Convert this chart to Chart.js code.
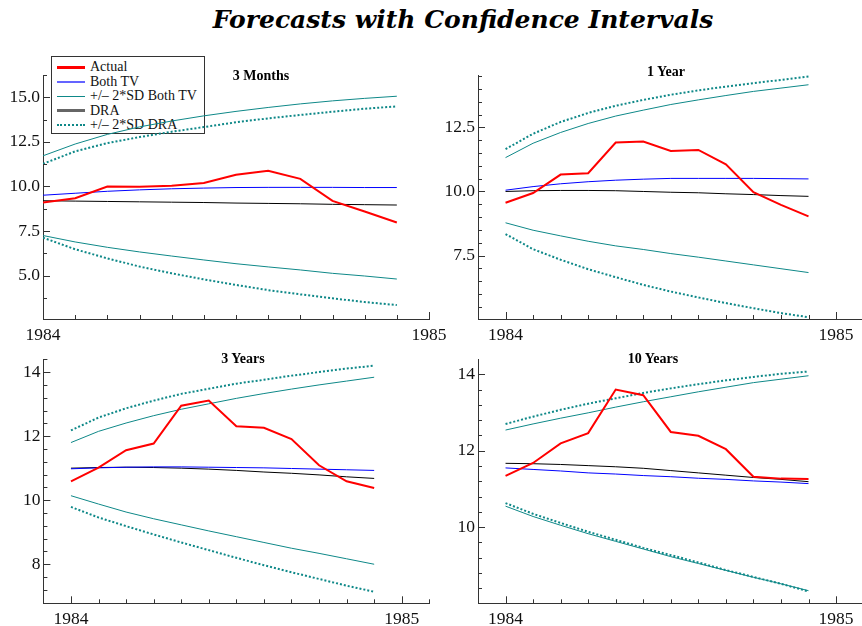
<!DOCTYPE html>
<html>
<head>
<meta charset="utf-8">
<script src="https://cdn.jsdelivr.net/npm/chart.js@4.4.0/dist/chart.umd.min.js"></script>
<style>
html,body{margin:0;padding:0;background:#fff;}
body{width:862px;height:626px;overflow:hidden;position:relative;}
.panel{position:absolute;}
.ptitle{position:absolute;font:bold 14px "Liberation Serif",serif;line-height:14px;white-space:nowrap;transform:translateX(-50%);color:#000;}
#title{position:absolute;left:463px;top:5.3px;transform:translateX(-50%);white-space:nowrap;font:italic bold 25px "DejaVu Serif",serif;line-height:30px;color:#000;}
#legend{position:absolute;left:51px;top:56px;width:152px;height:76px;border:1px solid #333;}
.lrow{position:absolute;left:0;width:150px;height:14px;}
.lsample{position:absolute;left:5px;width:28px;height:0;}
.ltext{position:absolute;left:38px;top:0;font:14px "Liberation Serif",serif;line-height:14px;color:#111;white-space:nowrap;}
</style>
</head>
<body>
<div id="title">Forecasts with Confidence Intervals</div>
<div id="legend"></div>
<div class="panel" style="left:0px;top:70px;width:460px;height:280px;"><canvas id="c0"></canvas></div>
<div class="panel" style="left:435px;top:70px;width:440px;height:280px;"><canvas id="c1"></canvas></div>
<div class="panel" style="left:0px;top:354px;width:460px;height:272px;"><canvas id="c2"></canvas></div>
<div class="panel" style="left:435px;top:354px;width:440px;height:272px;"><canvas id="c3"></canvas></div>
<div class="ptitle" style="left:261px;top:69px;">3 Months</div>
<div class="ptitle" style="left:666px;top:65px;">1 Year</div>
<div class="ptitle" style="left:243px;top:351.5px;">3 Years</div>
<div class="ptitle" style="left:653px;top:351.5px;">10 Years</div>
<script>
// ---- data ----
const months = [0,1,2,3,4,5,6,7,8,9,10,11];
const xTickLabels = ['1984','1985'];
const seriesNames = ['Actual','Both TV','+/\u2013 2*SD Both TV','DRA','+/\u2013 2*SD DRA'];
const panelTitles = ['3 Months','1 Year','3 Years','10 Years'];

// 3 Months
const actual3m    = [9.10, 9.34, 10.00, 9.98, 10.04, 10.19, 10.66, 10.88, 10.43, 9.19, 8.60, 7.98];
const bothTV3m    = [9.51, 9.62, 9.73, 9.81, 9.87, 9.91, 9.94, 9.95, 9.95, 9.95, 9.94, 9.94];
const bothTVUp3m  = [11.72, 12.38, 12.92, 13.34, 13.67, 13.96, 14.21, 14.43, 14.63, 14.80, 14.94, 15.06];
const bothTVLo3m  = [7.25, 6.89, 6.59, 6.33, 6.10, 5.88, 5.67, 5.49, 5.32, 5.13, 4.98, 4.81];
const dra3m       = [9.20, 9.18, 9.16, 9.14, 9.12, 9.10, 9.07, 9.05, 9.03, 9.00, 8.98, 8.96];
const draUp3m     = [11.27, 11.97, 12.43, 12.77, 13.07, 13.33, 13.60, 13.82, 14.01, 14.19, 14.36, 14.49];
const draLo3m     = [7.13, 6.48, 5.97, 5.51, 5.13, 4.79, 4.48, 4.19, 3.95, 3.73, 3.52, 3.35];

// 1 Year
const actual1y    = [9.56, 9.94, 10.66, 10.71, 11.91, 11.95, 11.58, 11.62, 11.06, 9.97, 9.48, 9.03];
const bothTV1y    = [10.05, 10.19, 10.30, 10.38, 10.44, 10.48, 10.51, 10.51, 10.51, 10.51, 10.50, 10.49];
const bothTVUp1y  = [11.32, 11.88, 12.30, 12.65, 12.94, 13.17, 13.39, 13.57, 13.74, 13.90, 14.03, 14.16];
const bothTVLo1y  = [8.78, 8.49, 8.27, 8.06, 7.88, 7.74, 7.58, 7.44, 7.29, 7.14, 6.99, 6.84];
const dra1y       = [10.00, 10.03, 10.04, 10.04, 10.03, 10.00, 9.97, 9.95, 9.91, 9.88, 9.84, 9.81];
const draUp1y     = [11.65, 12.25, 12.71, 13.06, 13.34, 13.57, 13.77, 13.94, 14.09, 14.22, 14.35, 14.48];
const draLo1y     = [8.34, 7.75, 7.34, 6.97, 6.66, 6.36, 6.10, 5.87, 5.65, 5.45, 5.26, 5.10];

// 3 Years
const actual3y    = [10.59, 11.02, 11.56, 11.77, 12.95, 13.11, 12.31, 12.26, 11.91, 11.09, 10.59, 10.38];
const bothTV3y    = [10.98, 11.01, 11.03, 11.04, 11.04, 11.03, 11.02, 11.01, 10.99, 10.97, 10.95, 10.93];
const bothTVUp3y  = [11.80, 12.15, 12.41, 12.64, 12.84, 13.01, 13.18, 13.33, 13.47, 13.60, 13.72, 13.84];
const bothTVLo3y  = [10.14, 9.88, 9.63, 9.42, 9.23, 9.04, 8.86, 8.68, 8.50, 8.34, 8.17, 8.00];
const dra3y       = [11.00, 11.02, 11.03, 11.02, 11.00, 10.97, 10.93, 10.88, 10.84, 10.79, 10.73, 10.68];
const draUp3y     = [12.18, 12.58, 12.87, 13.11, 13.32, 13.48, 13.64, 13.76, 13.89, 14.00, 14.11, 14.20];
const draLo3y     = [9.79, 9.46, 9.19, 8.93, 8.68, 8.44, 8.20, 7.97, 7.75, 7.54, 7.33, 7.14];

// 10 Years
const actual10y   = [11.34, 11.68, 12.19, 12.46, 13.60, 13.45, 12.49, 12.39, 12.04, 11.32, 11.27, 11.26];
const bothTV10y   = [11.55, 11.51, 11.47, 11.42, 11.39, 11.35, 11.32, 11.28, 11.25, 11.21, 11.18, 11.14];
const bothTVUp10y = [12.54, 12.70, 12.85, 12.99, 13.14, 13.28, 13.41, 13.54, 13.66, 13.78, 13.87, 13.96];
const bothTVLo10y = [10.55, 10.28, 10.05, 9.83, 9.63, 9.43, 9.23, 9.05, 8.87, 8.69, 8.52, 8.34];
const dra10y      = [11.67, 11.66, 11.64, 11.61, 11.58, 11.54, 11.48, 11.42, 11.36, 11.30, 11.25, 11.19];
const draUp10y    = [12.70, 12.89, 13.07, 13.23, 13.37, 13.51, 13.63, 13.74, 13.84, 13.93, 14.01, 14.07];
const draLo10y    = [10.63, 10.35, 10.11, 9.88, 9.67, 9.46, 9.27, 9.08, 8.88, 8.70, 8.52, 8.32];

// ---- styling ----
const RED = '#ff0000', BLUE = '#0000ff', TEAL = '#0e8888', BLACK = '#000000', AXIS = '#333333';

// legend (HTML)
const legendStyles = [
  'border-top:3px solid #ff0000;',
  'border-top:2px solid #6464ff;',
  'border-top:1px solid ' + TEAL + ';',
  'border-top:3px solid #666666;',
  'border-top:2px dotted ' + TEAL + ';'
];
const legendRowTops = [3, 17.5, 32, 46.5, 61];
const legendEl = document.getElementById('legend');
seriesNames.forEach((name, i) => {
  const row = document.createElement('div');
  row.className = 'lrow';
  row.style.top = legendRowTops[i] + 'px';
  const s = document.createElement('div');
  s.className = 'lsample';
  s.style.cssText = legendStyles[i] + 'top:' + (7 - (i === 0 || i === 3 ? 1.5 : i === 1 || i === 4 ? 1 : 0.5)) + 'px;';
  const t = document.createElement('div');
  t.className = 'ltext';
  t.textContent = name;
  row.appendChild(s); row.appendChild(t);
  legendEl.appendChild(row);
});

// inside tick marks plugin
const insideTicks = {
  id: 'insideTicks',
  afterDraw(chart) {
    const ctx = chart.ctx, ca = chart.chartArea;
    const xs = chart.scales.x, ys = chart.scales.y;
    ctx.save();
    ctx.strokeStyle = AXIS; ctx.lineWidth = 1;
    xs.ticks.forEach(t => {
      if (t.value < xs.min || t.value > xs.max) return;
      const px = Math.round(xs.getPixelForValue(t.value)) + 0.5;
      const len = (t.value === 0 || t.value === 12) ? 7 : 4;
      ctx.beginPath(); ctx.moveTo(px, ca.bottom); ctx.lineTo(px, ca.bottom - len); ctx.stroke();
    });
    ys.ticks.forEach(t => {
      const py = Math.round(ys.getPixelForValue(t.value)) + 0.5;
      const len = t.label ? 7 : 4;
      ctx.beginPath(); ctx.moveTo(ca.left, py); ctx.lineTo(ca.left + len, py); ctx.stroke();
    });
    ctx.restore();
  }
};

function lineDs(vals, color, width, dash) {
  return {
    data: months.map((m, i) => ({ x: m, y: vals[i] })),
    borderColor: color, borderWidth: width, borderDash: dash || [],
    pointRadius: 0, tension: 0, fill: false, borderCapStyle: 'butt'
  };
}

function makePanel(canvasId, sets, cfg) {
  const [act, tv, tvUp, tvLo, dra, dUp, dLo] = sets;
  new Chart(document.getElementById(canvasId), {
    type: 'line',
    data: {
      datasets: [
        lineDs(act, RED, 2),
        lineDs(tv, BLUE, 1),
        lineDs(tvUp, TEAL, 1),
        lineDs(tvLo, TEAL, 1),
        lineDs(dra, BLACK, 1),
        lineDs(dUp, TEAL, 2, [2, 2]),
        lineDs(dLo, TEAL, 2, [2, 2])
      ]
    },
    options: {
      responsive: true, maintainAspectRatio: false, animation: false,
      layout: { padding: { top: cfg.padTop, right: cfg.padRight, left: 0, bottom: 0 } },
      plugins: { legend: { display: false }, tooltip: { enabled: false }, title: { display: false } },
      scales: {
        x: {
          type: 'linear', min: cfg.xMin, max: cfg.xMax,
          grid: { display: false, drawTicks: false },
          border: { display: true, color: AXIS, width: 1 },
          ticks: {
            stepSize: 1, autoSkip: false, maxRotation: 0, includeBounds: false, padding: 6,
            color: '#111', font: { family: '"Liberation Serif", serif', size: 17.5 },
            callback: v => v === 0 ? xTickLabels[0] : (v === 12 ? xTickLabels[1] : '')
          },
          afterFit: s => { s.height = cfg.xHeight; s.paddingLeft = 0; s.paddingRight = 0; }
        },
        y: {
          type: 'linear', min: cfg.yMin, max: cfg.yMax,
          grid: { display: false, drawTicks: false },
          border: { display: true, color: AXIS, width: 1 },
          ticks: {
            stepSize: cfg.minor, autoSkip: false, includeBounds: false, padding: 3,
            color: '#111', font: { family: '"Liberation Serif", serif', size: 17.5 },
            callback: v => {
              const r = v / cfg.major;
              return Math.abs(r - Math.round(r)) < 1e-6 ? v.toFixed(cfg.dec) : '';
            }
          },
          afterFit: s => { s.width = cfg.yWidth; s.paddingTop = 0; s.paddingBottom = 0; }
        }
      }
    },
    plugins: [insideTicks]
  });
}

makePanel('c0', [actual3m, bothTV3m, bothTVUp3m, bothTVLo3m, dra3m, draUp3m, draLo3m],
  { xMin: 0, xMax: 12, yMin: 2.57, yMax: 16.25, minor: 1.25, major: 2.5, dec: 1,
    padTop: 5, padRight: 31, xHeight: 31, yWidth: 43 });
makePanel('c1', [actual1y, bothTV1y, bothTVUp1y, bothTVLo1y, dra1y, draUp1y, draLo1y],
  { xMin: -1, xMax: 13, yMin: 5.03, yMax: 14.54, minor: 0.5, major: 2.5, dec: 1,
    padTop: 5, padRight: 11.4, xHeight: 31, yWidth: 43 });
makePanel('c2', [actual3y, bothTV3y, bothTVUp3y, bothTVLo3y, dra3y, draUp3y, draLo3y],
  { xMin: -1, xMax: 13, yMin: 6.78, yMax: 14.40, minor: 0.4, major: 2, dec: 0,
    padTop: 5.3, padRight: 30.7, xHeight: 22.7, yWidth: 43.4 });
makePanel('c3', [actual10y, bothTV10y, bothTVUp10y, bothTVLo10y, dra10y, draUp10y, draLo10y],
  { xMin: -1, xMax: 13, yMin: 8.01, yMax: 14.39, minor: 0.4, major: 2, dec: 0,
    padTop: 5.3, padRight: 11.4, xHeight: 22.7, yWidth: 43 });
</script>
</body>
</html>
